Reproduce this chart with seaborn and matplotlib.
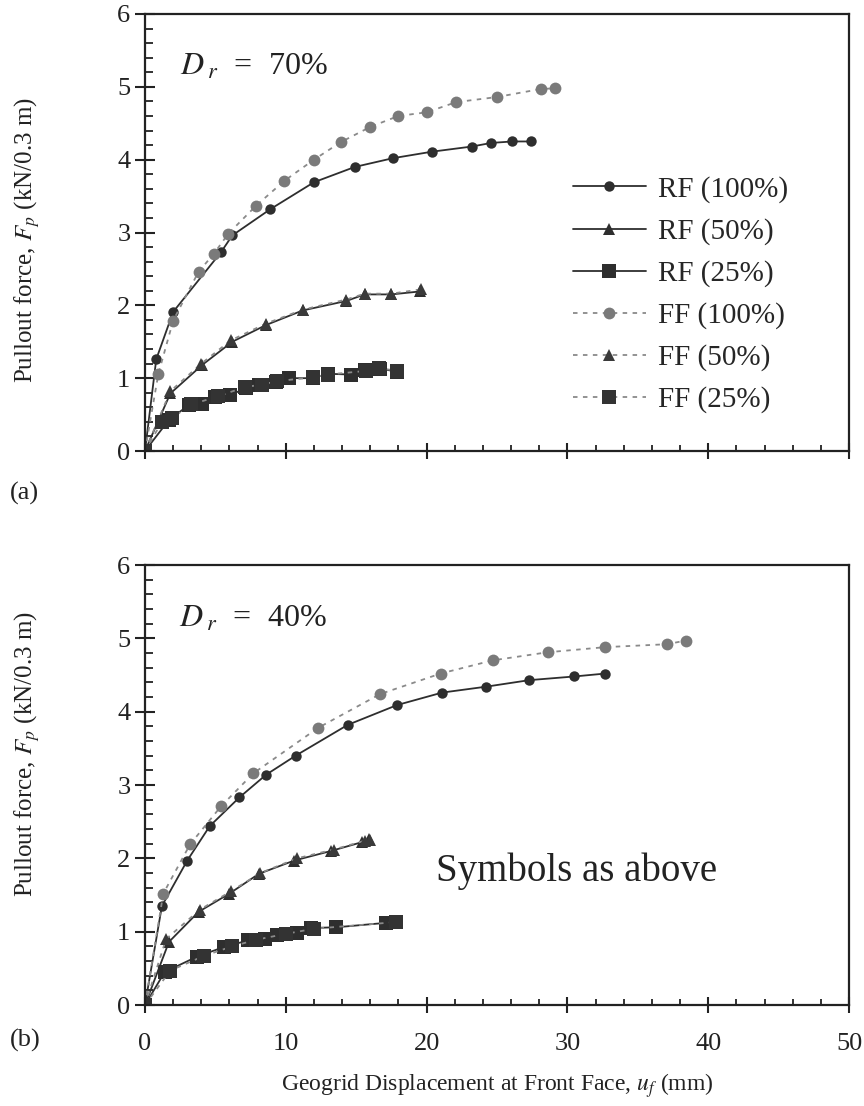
import numpy as np
import pandas as pd
import matplotlib
matplotlib.use("Agg")
import matplotlib.pyplot as plt
from matplotlib.ticker import MultipleLocator
import seaborn as sns

sns.set_theme(style="ticks")
plt.rcParams['font.family'] = ['Liberation Serif', 'DejaVu Serif']
plt.rcParams['mathtext.fontset'] = 'stix'

# ---------------- data (a) Dr = 70% ----------------
a_rf100_u = [0, 0.8, 2.0, 5.4, 6.2, 8.9, 12.0, 14.9, 17.6, 20.4, 23.2, 24.6, 26.1, 27.4]
a_rf100_f = [0, 1.26, 1.91, 2.73, 2.96, 3.32, 3.69, 3.90, 4.02, 4.11, 4.18, 4.23, 4.25, 4.25]
a_rf50_u = [0, 1.8, 4.05, 6.2, 8.6, 11.2, 14.3, 15.6, 17.5, 19.5]
a_rf50_f = [0, 0.79, 1.18, 1.50, 1.73, 1.93, 2.06, 2.15, 2.15, 2.19]
a_rf25_u = [0, 1.67, 3.1, 4.05, 5.0, 6.07, 7.14, 8.1, 9.3, 10.2, 11.9, 13.0, 14.6, 15.6, 16.7, 17.9]
a_rf25_f = [0, 0.42, 0.63, 0.65, 0.74, 0.77, 0.86, 0.90, 0.95, 1.00, 1.00, 1.06, 1.05, 1.11, 1.13, 1.09]
a_ff100_u = [0, 0.95, 2.0, 3.8, 4.9, 5.9, 7.9, 9.9, 12.0, 13.9, 16.0, 18.0, 20.0, 22.1, 25.0, 28.1, 29.1]
a_ff100_f = [0, 1.06, 1.79, 2.46, 2.71, 2.98, 3.37, 3.71, 4.00, 4.24, 4.45, 4.60, 4.65, 4.79, 4.86, 4.97, 4.98]
a_ff50_u = [0, 1.8, 4.0, 6.1, 8.6, 11.2, 14.3, 15.6, 17.5, 19.6]
a_ff50_f = [0, 0.82, 1.20, 1.52, 1.75, 1.94, 2.08, 2.16, 2.16, 2.22]
a_ff25_u = [0, 1.2, 1.9, 3.3, 5.2, 7.1, 8.3, 9.4, 11.9, 13.0, 15.7, 16.6, 17.9]
a_ff25_f = [0, 0.40, 0.45, 0.64, 0.75, 0.88, 0.91, 0.96, 1.01, 1.05, 1.10, 1.14, 1.10]

# ---------------- data (b) Dr = 40% ----------------
b_rf100_u = [0, 1.2, 3.0, 4.6, 6.7, 8.6, 10.7, 14.4, 17.9, 21.1, 24.2, 27.3, 30.5, 32.7]
b_rf100_f = [0, 1.35, 1.97, 2.44, 2.83, 3.14, 3.40, 3.82, 4.09, 4.26, 4.34, 4.43, 4.48, 4.52]
b_rf50_u = [0, 1.7, 3.8, 6.0, 8.1, 10.6, 13.2, 15.4, 15.9]
b_rf50_f = [0, 0.86, 1.27, 1.52, 1.79, 1.97, 2.10, 2.22, 2.26]
b_rf25_u = [0, 1.4, 3.7, 5.6, 7.3, 8.5, 9.4, 10.8, 11.8, 13.6, 17.1]
b_rf25_f = [0, 0.45, 0.66, 0.79, 0.88, 0.90, 0.96, 0.98, 1.05, 1.06, 1.12]
b_ff100_u = [0, 1.3, 3.2, 5.4, 7.7, 12.3, 16.7, 21.0, 24.7, 28.6, 32.7, 37.1, 38.4]
b_ff100_f = [0, 1.52, 2.19, 2.71, 3.16, 3.78, 4.24, 4.52, 4.70, 4.81, 4.88, 4.92, 4.97]
b_ff50_u = [0, 1.5, 3.9, 6.1, 8.2, 10.8, 13.4, 15.6, 16.0]
b_ff50_f = [0, 0.90, 1.30, 1.55, 1.80, 2.00, 2.12, 2.24, 2.25]
b_ff25_u = [0, 1.8, 4.2, 6.2, 7.9, 10.0, 12.0, 17.8]
b_ff25_f = [0, 0.47, 0.67, 0.80, 0.89, 0.97, 1.04, 1.13]

labels = ["RF (100%)", "RF (50%)", "RF (25%)", "FF (100%)", "FF (50%)", "FF (25%)"]
x_ticks = [0, 10, 20, 30, 40, 50]
y_ticks = [0, 1, 2, 3, 4, 5, 6]

panel_a = [(a_rf100_u, a_rf100_f), (a_rf50_u, a_rf50_f), (a_rf25_u, a_rf25_f),
           (a_ff100_u, a_ff100_f), (a_ff50_u, a_ff50_f), (a_ff25_u, a_ff25_f)]
panel_b = [(b_rf100_u, b_rf100_f), (b_rf50_u, b_rf50_f), (b_rf25_u, b_rf25_f),
           (b_ff100_u, b_ff100_f), (b_ff50_u, b_ff50_f), (b_ff25_u, b_ff25_f)]

styles = [
    dict(color="#2e2e2e", ls="-", marker="o", ms=7.5, mc="#2e2e2e"),
    dict(color="#2e2e2e", ls="-", marker="^", ms=9, mc="#2e2e2e"),
    dict(color="#2e2e2e", ls="-", marker="s", ms=10.5, mc="#2e2e2e"),
    dict(color="#8a8a8a", ls=(0, (2.5, 3)), marker="o", ms=8.5, mc="#7a7a7a"),
    dict(color="#8a8a8a", ls=(0, (2.5, 3)), marker="^", ms=9, mc="#3a3a3a"),
    dict(color="#8a8a8a", ls=(0, (2.5, 3)), marker="s", ms=10.5, mc="#333333"),
]

fig = plt.figure(figsize=(8.64, 11.06), dpi=100)
ax_a = fig.add_axes([145/864, 1-451/1106, 704/864, 437/1106])
ax_b = fig.add_axes([145/864, 1-1005/1106, 704/864, 440/1106])

for ax, panel in [(ax_a, panel_a), (ax_b, panel_b)]:
    for (u, f), st, lab in zip(panel, styles, labels):
        sns.lineplot(x=u, y=f, ax=ax, sort=False, estimator=None,
                     color=st["color"], linestyle=st["ls"], linewidth=1.3,
                     marker=st["marker"], markersize=st["ms"],
                     markerfacecolor=st["mc"], markeredgecolor=st["mc"],
                     markeredgewidth=0, label=lab, legend=False)
    ax.set_xlim(0, 50)
    ax.set_ylim(0, 6)
    ax.set_xticks(x_ticks)
    ax.set_yticks(y_ticks)
    ax.xaxis.set_minor_locator(MultipleLocator(2))
    ax.yaxis.set_minor_locator(MultipleLocator(0.2))
    ax.tick_params(axis='y', which='major', direction='inout', length=15, width=1.5,
                   labelsize=19, pad=3, colors='#222222')
    ax.tick_params(axis='y', which='minor', direction='in', length=6, width=1.3, colors='#222222')
    ax.tick_params(axis='x', which='major', direction='inout', length=12, width=1.5,
                   labelsize=19, pad=14, colors='#222222')
    ax.tick_params(axis='x', which='minor', direction='in', length=4, width=1.3, colors='#222222')
    for sp in ax.spines.values():
        sp.set_visible(True)
        sp.set_linewidth(1.6)
        sp.set_color('#222222')
    ax.set_ylabel(r"Pullout force, $F_p$ (kN/0.3 m)", fontsize=18, color='#222222')
    ax.set_xlabel("")

ax_a.tick_params(axis='x', which='both', labelbottom=False)
ax_a.yaxis.set_label_coords(-0.146, 0.483)
ax_b.yaxis.set_label_coords(-0.146, 0.57)
ax_b.set_xlabel(r"Geogrid Displacement at Front Face, $u_f$ (mm)", fontsize=17,
                color='#222222', labelpad=12)

ax_a.text(2.5, 5.27, r"$D_{\;r}$  =  70%", fontsize=23, color='#222222', va='center')
ax_b.text(2.4, 5.26, r"$D_{\;r}$  =  40%", fontsize=23, color='#222222', va='center')
ax_b.text(20.7, 1.83, "Symbols as above", fontsize=28, color='#222222', va='center')

fig.text(10/864, 1-493/1106, "(a)", fontsize=19, color='#222222', va='center')
fig.text(10/864, 1-1040/1106, "(b)", fontsize=19, color='#222222', va='center')

handles, labs = ax_a.get_legend_handles_labels()
leg = ax_a.legend(handles, labs, loc='upper left', bbox_to_anchor=(573/864, 1-176/1106),
                  bbox_transform=fig.transFigure, frameon=False, fontsize=21,
                  handlelength=2.5, handletextpad=0.4, labelspacing=0.52,
                  borderpad=0, borderaxespad=0)

fig.savefig("out.png", dpi=100)
